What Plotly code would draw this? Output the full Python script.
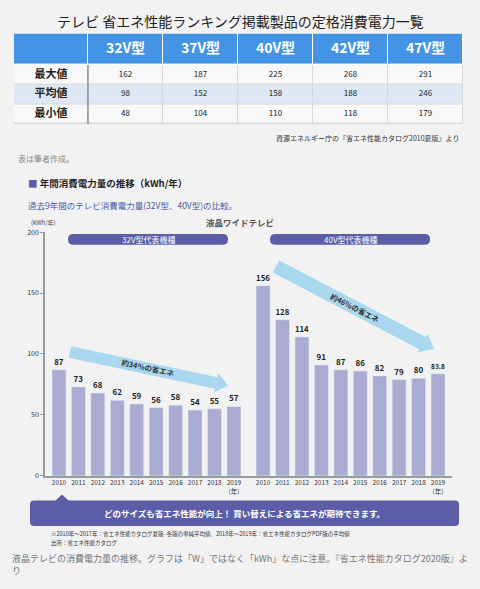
import math
import plotly.graph_objects as go

# ---------------------------------------------------------------------------
# Data
# ---------------------------------------------------------------------------

sizes = ["32V型", "37V型", "40V型", "42V型", "47V型"]
row_labels = ["最大値", "平均値", "最小値"]
max_w = [162, 187, 225, 268, 291]
avg_w = [98, 152, 158, 188, 246]
min_w = [48, 104, 110, 118, 179]

years = ["2010", "2011", "2012", "2013", "2014",
         "2015", "2016", "2017", "2018", "2019"]
kwh_32 = [87, 73, 68, 62, 59, 56, 58, 54, 55, 57]
kwh_40 = [156, 128, 114, 91, 87, 86, 82, 79, 80, 83.8]

y_ticks = [0, 50, 100, 150, 200]

# ---------------------------------------------------------------------------
# Page geometry (pixel -> paper)
# ---------------------------------------------------------------------------

W, H = 480, 589
FONT = "Noto Sans CJK JP"
BG = "#f2f2f2"
BAR = "#a9abd1"
NAVY = "#5b5ea6"
SKY = "#a8d7ee"


def px(x):
    return x / W


def py(y):
    return 1 - y / H


def note(fig, x, y, text, size, color="#222", xanchor="left", **kw):
    fig.add_annotation(x=px(x), y=py(y), xref="paper", yref="paper",
                       text=text, showarrow=False, xanchor=xanchor,
                       yanchor="middle",
                       font=dict(family=FONT, size=size, color=color), **kw)


def round_rect(x0, y0, x1, y1, r):
    pts = [
        ("M", x0 + r, y0), ("L", x1 - r, y0), ("Q", x1, y0, x1, y0 + r),
        ("L", x1, y1 - r), ("Q", x1, y1, x1 - r, y1),
        ("L", x0 + r, y1), ("Q", x0, y1, x0, y1 - r),
        ("L", x0, y0 + r), ("Q", x0, y0, x0 + r, y0),
    ]
    out = []
    for p in pts:
        cmd, coords = p[0], p[1:]
        xy = [f"{px(coords[i])},{py(coords[i + 1])}" for i in range(0, len(coords), 2)]
        out.append(cmd + " " + " ".join(xy))
    return " ".join(out) + " Z"


def arrow_path(x0, y0, x1, y1, w=6, hw=11, hl=13):
    dx, dy = x1 - x0, y1 - y0
    L = math.hypot(dx, dy)
    ux, uy = dx / L, dy / L
    nx, ny = -uy, ux
    bx, by = x1 - ux * hl, y1 - uy * hl
    pts = [(x0 + nx * w, y0 + ny * w), (bx + nx * w, by + ny * w),
           (bx + nx * hw, by + ny * hw), (x1, y1),
           (bx - nx * hw, by - ny * hw), (bx - nx * w, by - ny * w),
           (x0 - nx * w, y0 - ny * w)]
    return "M " + " L ".join(f"{px(a)},{py(b)}" for a, b in pts) + " Z"


fig = go.Figure()

# ---------------------------------------------------------------------------
# Table (heatmap cells on their own axes, text on top)
# ---------------------------------------------------------------------------

col_w = [74] + [75] * len(sizes)
x_edges = [sum(col_w[:i]) for i in range(len(col_w) + 1)]
row_h = [20, 20, 20, 32]                 # bottom-up: 最小値, 平均値, 最大値, header
y_edges = [sum(row_h[:i]) for i in range(len(row_h) + 1)]
x_mid = [(a + b) / 2 for a, b in zip(x_edges[:-1], x_edges[1:])]
y_mid = [(a + b) / 2 for a, b in zip(y_edges[:-1], y_edges[1:])]

row_shade = [0, 1, 0, 2]                 # 0 plain, 1 light blue, 2 header blue
z = [[s] * len(col_w) for s in row_shade]

fig.add_trace(go.Heatmap(
    x=x_edges, y=y_edges, z=z, xaxis="x2", yaxis="y2",
    zmin=0, zmax=2, showscale=False, xgap=1, ygap=1,
    colorscale=[[0, "#f8f8f8"], [0.5, "#dde8f4"], [1, "#4394e4"]],
    hoverinfo="skip",
))

fig.add_trace(go.Scatter(
    x=x_mid[1:], y=[y_mid[3]] * len(sizes), xaxis="x2", yaxis="y2",
    mode="text", text=[f"<b>{s}</b>" for s in sizes],
    textfont=dict(family=FONT, size=14, color="white"), hoverinfo="skip",
))
fig.add_trace(go.Scatter(
    x=[x_mid[0]] * 3, y=y_mid[2::-1], xaxis="x2", yaxis="y2",
    mode="text", text=[f"<b>{r}</b>" for r in row_labels],
    textfont=dict(family=FONT, size=11, color="#222"), hoverinfo="skip",
))
for row_vals, ym in zip((max_w, avg_w, min_w), y_mid[2::-1]):
    fig.add_trace(go.Scatter(
        x=x_mid[1:], y=[ym] * len(row_vals), xaxis="x2", yaxis="y2",
        mode="text", text=[str(v) for v in row_vals],
        textfont=dict(family=FONT, size=8, color="#222"), hoverinfo="skip",
    ))

# ---------------------------------------------------------------------------
# Bar chart
# ---------------------------------------------------------------------------

x_left = list(range(len(years)))
x_right = [i + len(years) + 0.5 for i in range(len(years))]

for xs, vals in ((x_left, kwh_32), (x_right, kwh_40)):
    fig.add_trace(go.Bar(
        x=xs, y=vals, width=0.72, marker_color=BAR,
        texttemplate="<b>%{y}</b>", textposition="outside",
        textfont=dict(family=FONT, size=8, color="#222"),
        cliponaxis=False, hoverinfo="skip",
    ))

tick_text = [y if y != years[-1] else f"{y}<br>(年)" for y in years]

fig.update_layout(
    width=W, height=H,
    margin=dict(l=0, r=0, t=0, b=0),
    paper_bgcolor=BG, plot_bgcolor=BG,
    showlegend=False,
    font=dict(family=FONT),
    xaxis=dict(
        domain=[px(45), px(452)],
        range=[-0.72, 20.22],
        tickvals=x_left + x_right,
        ticktext=tick_text * 2,
        tickfont=dict(size=6.5, color="#333"),
        showgrid=False, zeroline=False,
        showline=True, linecolor="#9a9a9a", linewidth=1.5,
        ticks="", fixedrange=True,
    ),
    yaxis=dict(
        domain=[py(478), py(230)],
        range=[0, 200],
        tickvals=y_ticks,
        tickfont=dict(size=7, color="#333"),
        showgrid=False, zeroline=False,
        showline=True, linecolor="#9a9a9a", linewidth=1.5,
        ticks="outside", ticklen=3, tickcolor="#9a9a9a",
    ),
    xaxis2=dict(domain=[px(14), px(463)], range=[0, x_edges[-1]],
                visible=False, fixedrange=True, anchor="y2"),
    yaxis2=dict(domain=[py(120), py(28)], range=[0, y_edges[-1]],
                visible=False, fixedrange=True, anchor="x2"),
)

# ── Table grid underlay, pills, arrows, banner ────────────────────────────
shapes = [
    dict(type="rect", xref="x2", yref="y2", x0=0, x1=x_edges[-1],
         y0=0, y1=y_edges[3], fillcolor="#d8d8d8", line_width=0, layer="below"),
    dict(type="rect", xref="x2", yref="y2", x0=0, x1=x_edges[-1],
         y0=y_edges[3], y1=y_edges[4], fillcolor="#ffffff", line_width=0,
         layer="below"),
    dict(type="line", xref="x2", yref="y2", x0=x_edges[1], x1=x_edges[1],
         y0=0, y1=y_edges[3], line=dict(color="#666", width=1)),
    dict(type="path", path=round_rect(68, 232, 228, 243, 5.5),
         fillcolor=NAVY, line_width=0),
    dict(type="path", path=round_rect(270, 232, 430, 243, 5.5),
         fillcolor=NAVY, line_width=0),
    dict(type="path", path=arrow_path(70, 352, 228, 386, w=6, hw=10, hl=12),
         fillcolor=SKY, line_width=0),
    dict(type="path", path=arrow_path(276, 265, 434, 349, w=7, hw=11, hl=13),
         fillcolor=SKY, line_width=0),
    dict(type="path", path=round_rect(30, 503, 459, 529, 4),
         fillcolor=NAVY, line_width=0),
    dict(type="path",
         path=f"M {px(55)},{py(503.5)} L {px(62)},{py(497)} L {px(69)},{py(503.5)} Z",
         fillcolor=NAVY, line_width=0),
]
for s in shapes:
    s.setdefault("xref", "paper")
    s.setdefault("yref", "paper")
    s.setdefault("layer", "above")
fig.update_layout(shapes=shapes)

# ── Texts ─────────────────────────────────────────────────────────────────
note(fig, 240, 15, "テレビ 省エネ性能ランキング掲載製品の定格消費電力一覧", 14,
     "#222", xanchor="center")
note(fig, 461, 134, "資源エネルギー庁の『省エネ性能カタログ2010夏版』より", 7,
     "#333", xanchor="right")
note(fig, 16, 155, "表は筆者作成。", 8, "#888")
note(fig, 26, 180,
     f"<span style='color:{NAVY}'>■</span> <b>年間消費電力量の推移（kWh/年）</b>",
     9.5, "#222")
note(fig, 26, 202, "過去9年間のテレビ消費電力量(32V型、40V型)の比較。", 8.5,
     "#4a58a8")
note(fig, 29, 220, "(kWh/年)", 6, "#444")
note(fig, 240, 220, "<b>液晶ワイドテレビ</b>", 8.5, "#555", xanchor="center")
note(fig, 148, 237.5, "32V型代表機種", 8, "white", xanchor="center")
note(fig, 350, 237.5, "40V型代表機種", 8, "white", xanchor="center")
note(fig, 148, 368, "<b>約34%の省エネ</b>", 7.5, "#333", xanchor="center",
     textangle=12)
note(fig, 355, 307, "<b>約46%の省エネ</b>", 7.5, "#333", xanchor="center",
     textangle=27)
note(fig, 244, 516,
     "<b>どのサイズも省エネ性能が向上！ 買い替えによる省エネが期待できます。</b>",
     8.5, "white", xanchor="center")
note(fig, 49, 537,
     "※2010年～2017年：省エネ性能カタログ夏版·冬版の単純平均値、"
     "2018年～2019年：省エネ性能カタログPDF版の平均値", 5.5, "#333")
note(fig, 49, 546, "出所：省エネ性能カタログ", 5.5, "#333")
fig.add_annotation(
    x=px(10), y=py(553), xref="paper", yref="paper", showarrow=False,
    xanchor="left", yanchor="top", align="left",
    text="液晶テレビの消費電力量の推移。グラフは「W」ではなく「kWh」な点に注意。"
         "『省エネ性能カタログ2020版』よ<br>り",
    font=dict(family=FONT, size=9, color="#777"),
)

fig.write_html("out.html", config={"displayModeBar": False},
               post_script="document.body.style.margin='0px';")
